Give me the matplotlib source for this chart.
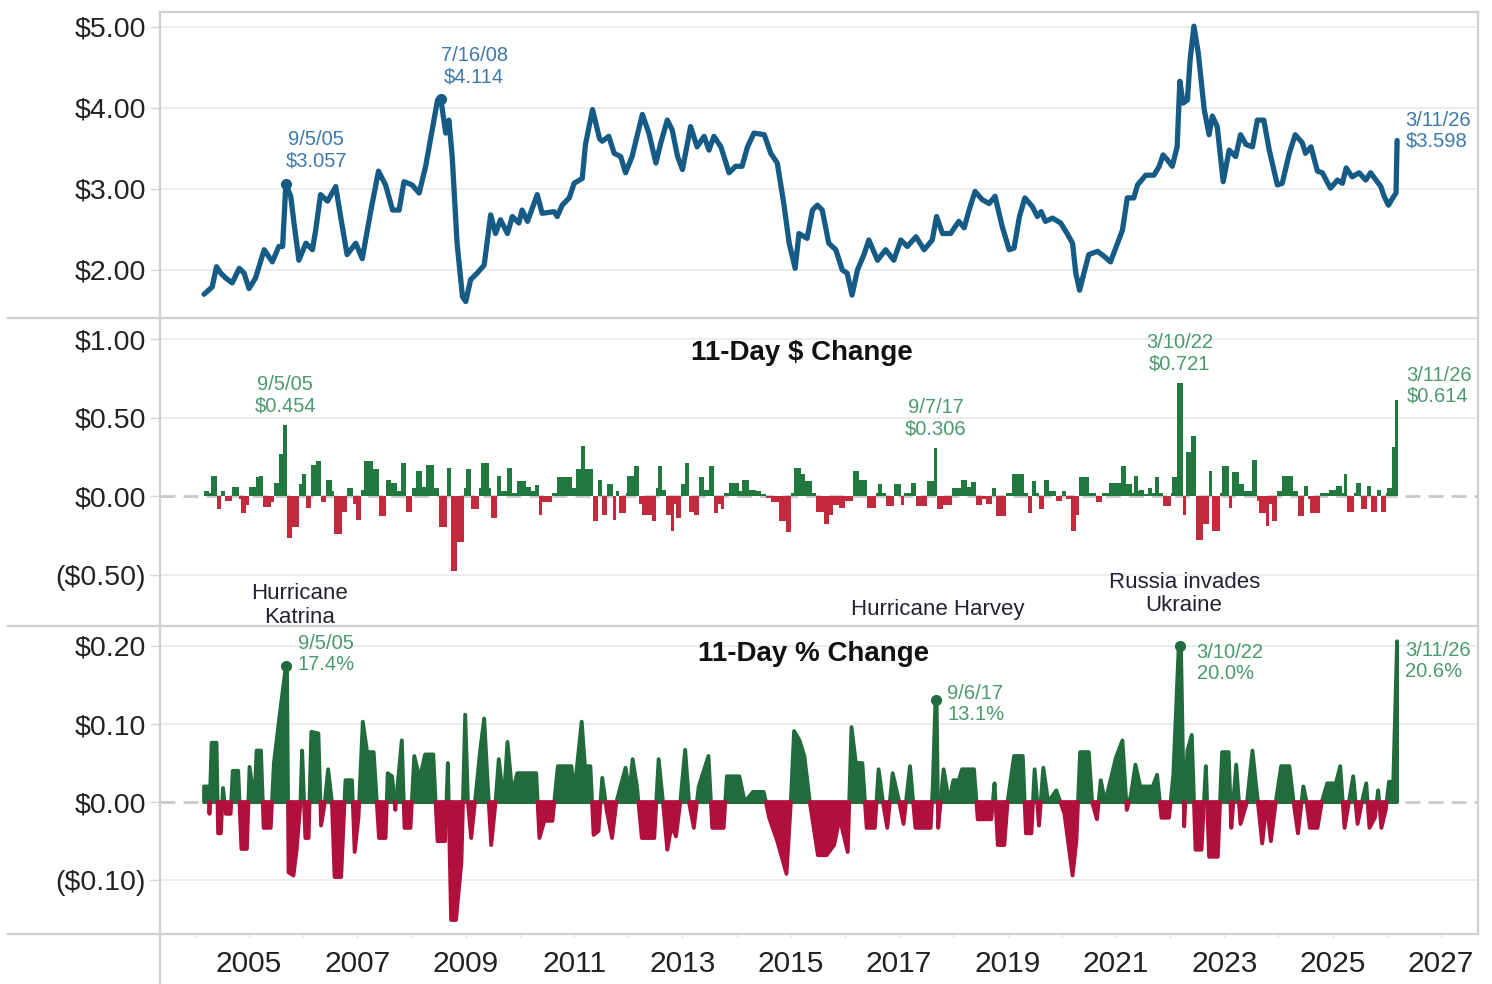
import matplotlib
matplotlib.use("Agg")
import matplotlib.pyplot as plt
from matplotlib.lines import Line2D
from matplotlib.ticker import FuncFormatter
import numpy as np

plt.rcParams['font.family'] = ['Liberation Sans', 'DejaVu Sans']

# ---- data (decimal years) ----
# average gas price
price_year = [2004.17, 2004.32, 2004.40, 2004.48, 2004.57, 2004.69, 2004.82, 2004.91, 2005.00, 2005.12,
              2005.28, 2005.43, 2005.55, 2005.62, 2005.68, 2005.77, 2005.83, 2005.92, 2006.05, 2006.17,
              2006.23, 2006.32, 2006.45, 2006.60, 2006.69, 2006.81, 2006.97, 2007.09, 2007.25, 2007.39,
              2007.52, 2007.65, 2007.77, 2007.86, 2008.01, 2008.14, 2008.26, 2008.38, 2008.48, 2008.54,
              2008.63, 2008.69, 2008.75, 2008.84, 2008.94, 2009.00, 2009.09, 2009.21, 2009.34, 2009.46,
              2009.55, 2009.64, 2009.77, 2009.86, 2009.98, 2010.04, 2010.14, 2010.32, 2010.41, 2010.63,
              2010.69, 2010.78, 2010.91, 2011.00, 2011.15, 2011.21, 2011.34, 2011.47, 2011.52, 2011.64,
              2011.74, 2011.86, 2011.95, 2012.07, 2012.26, 2012.38, 2012.51, 2012.60, 2012.72, 2012.81,
              2012.91, 2013.00, 2013.15, 2013.27, 2013.40, 2013.49, 2013.58, 2013.71, 2013.86, 2013.98,
              2014.10, 2014.20, 2014.32, 2014.51, 2014.63, 2014.75, 2014.87, 2014.97, 2015.08, 2015.15,
              2015.30, 2015.40, 2015.49, 2015.58, 2015.70, 2015.83, 2015.95, 2016.04, 2016.13, 2016.23,
              2016.35, 2016.44, 2016.60, 2016.75, 2016.90, 2017.03, 2017.15, 2017.31, 2017.46, 2017.61,
              2017.69, 2017.80, 2017.95, 2018.10, 2018.20, 2018.29, 2018.40, 2018.53, 2018.66, 2018.77,
              2018.90, 2019.03, 2019.12, 2019.22, 2019.32, 2019.46, 2019.55, 2019.62, 2019.70, 2019.83,
              2019.98, 2020.10, 2020.20, 2020.26, 2020.33, 2020.41, 2020.50, 2020.66, 2020.78, 2020.90,
              2021.03, 2021.12, 2021.21, 2021.33, 2021.40, 2021.55, 2021.70, 2021.80, 2021.87, 2021.95,
              2022.04, 2022.13, 2022.18, 2022.24, 2022.32, 2022.37, 2022.44, 2022.52, 2022.63, 2022.72,
              2022.78, 2022.87, 2022.98, 2023.09, 2023.21, 2023.30, 2023.40, 2023.52, 2023.61, 2023.73,
              2023.83, 2023.98, 2024.07, 2024.20, 2024.31, 2024.44, 2024.50, 2024.60, 2024.72, 2024.81,
              2024.96, 2025.09, 2025.18, 2025.25, 2025.36, 2025.49, 2025.61, 2025.70, 2025.80, 2025.89,
              2025.95, 2026.03, 2026.11, 2026.17, 2026.19]
price_val = [1.70, 1.79, 2.04, 1.96, 1.90, 1.84, 2.02, 1.96, 1.77, 1.90,
             2.25, 2.10, 2.29, 2.29, 3.057, 2.91, 2.58, 2.12, 2.33, 2.25,
             2.49, 2.93, 2.85, 3.03, 2.66, 2.19, 2.33, 2.14, 2.74, 3.22,
             3.05, 2.74, 2.74, 3.09, 3.05, 2.95, 3.28, 3.73, 4.10, 4.114,
             3.69, 3.85, 3.40, 2.33, 1.67, 1.61, 1.88, 1.96, 2.06, 2.68,
             2.45, 2.62, 2.45, 2.66, 2.58, 2.74, 2.60, 2.93, 2.70, 2.72,
             2.66, 2.80, 2.89, 3.07, 3.13, 3.55, 3.98, 3.62, 3.59, 3.65,
             3.44, 3.40, 3.20, 3.40, 3.92, 3.69, 3.32, 3.57, 3.85, 3.73,
             3.40, 3.24, 3.77, 3.52, 3.65, 3.48, 3.65, 3.52, 3.20, 3.28,
             3.28, 3.52, 3.69, 3.67, 3.44, 3.32, 2.82, 2.33, 2.02, 2.45,
             2.39, 2.74, 2.80, 2.74, 2.33, 2.25, 2.00, 1.96, 1.69, 2.00,
             2.19, 2.37, 2.12, 2.25, 2.12, 2.37, 2.29, 2.41, 2.25, 2.37,
             2.66, 2.45, 2.45, 2.60, 2.52, 2.74, 2.97, 2.87, 2.82, 2.91,
             2.54, 2.25, 2.27, 2.66, 2.89, 2.78, 2.66, 2.72, 2.60, 2.64,
             2.58, 2.45, 2.33, 1.96, 1.75, 1.96, 2.19, 2.23, 2.17, 2.10,
             2.33, 2.49, 2.89, 2.89, 3.05, 3.17, 3.17, 3.28, 3.42, 3.36,
             3.28, 3.52, 4.33, 4.06, 4.10, 4.60, 5.01, 4.68, 3.98, 3.67,
             3.90, 3.77, 3.09, 3.48, 3.40, 3.67, 3.55, 3.52, 3.85, 3.85,
             3.48, 3.05, 3.07, 3.44, 3.67, 3.57, 3.44, 3.52, 3.22, 3.20,
             3.01, 3.11, 3.07, 3.26, 3.15, 3.20, 3.11, 3.20, 3.11, 3.03,
             2.91, 2.80, 2.89, 2.95, 3.598]

# 11-day $ change: period start and value
dchg_year = [2004.17, 2004.26, 2004.30, 2004.41, 2004.48, 2004.55, 2004.69, 2004.82, 2004.85, 2004.95,
             2005.00, 2005.12, 2005.18, 2005.25, 2005.40, 2005.46, 2005.55, 2005.63, 2005.71, 2005.80,
             2005.92, 2005.98, 2006.05, 2006.14, 2006.23, 2006.32, 2006.42, 2006.54, 2006.57, 2006.72,
             2006.81, 2006.91, 2006.97, 2007.06, 2007.12, 2007.28, 2007.40, 2007.52, 2007.62, 2007.74,
             2007.80, 2007.89, 2008.01, 2008.08, 2008.20, 2008.26, 2008.41, 2008.51, 2008.66, 2008.72,
             2008.84, 2008.97, 2009.00, 2009.09, 2009.25, 2009.28, 2009.43, 2009.46, 2009.58, 2009.65,
             2009.77, 2009.86, 2009.95, 2010.11, 2010.20, 2010.27, 2010.35, 2010.41, 2010.60, 2010.69,
             2010.97, 2011.03, 2011.12, 2011.20, 2011.34, 2011.44, 2011.52, 2011.60, 2011.71, 2011.77,
             2011.83, 2011.95, 2011.98, 2012.11, 2012.20, 2012.26, 2012.44, 2012.51, 2012.54, 2012.63,
             2012.69, 2012.78, 2012.84, 2012.88, 2012.97, 2013.05, 2013.12, 2013.21, 2013.31, 2013.40,
             2013.49, 2013.58, 2013.66, 2013.72, 2013.77, 2013.86, 2014.04, 2014.10, 2014.23, 2014.35,
             2014.45, 2014.54, 2014.63, 2014.78, 2014.91, 2015.00, 2015.06, 2015.18, 2015.27, 2015.40,
             2015.46, 2015.61, 2015.70, 2015.78, 2015.89, 2016.00, 2016.14, 2016.26, 2016.41, 2016.57,
             2016.60, 2016.69, 2016.75, 2016.90, 2017.03, 2017.09, 2017.21, 2017.31, 2017.52, 2017.64,
             2017.70, 2017.80, 2017.98, 2018.14, 2018.25, 2018.33, 2018.41, 2018.52, 2018.60, 2018.72,
             2018.78, 2018.97, 2019.09, 2019.30, 2019.37, 2019.46, 2019.52, 2019.58, 2019.67, 2019.77,
             2019.90, 2020.00, 2020.08, 2020.17, 2020.26, 2020.32, 2020.50, 2020.63, 2020.75, 2020.87,
             2021.09, 2021.18, 2021.30, 2021.33, 2021.40, 2021.43, 2021.52, 2021.60, 2021.67, 2021.73,
             2021.80, 2021.86, 2022.01, 2022.04, 2022.13, 2022.23, 2022.29, 2022.38, 2022.47, 2022.60,
             2022.72, 2022.78, 2022.93, 2022.96, 2023.09, 2023.15, 2023.27, 2023.36, 2023.52, 2023.61,
             2023.64, 2023.77, 2023.83, 2023.89, 2023.98, 2024.07, 2024.26, 2024.36, 2024.48, 2024.55,
             2024.58, 2024.76, 2024.93, 2025.06, 2025.18, 2025.21, 2025.27, 2025.39, 2025.43, 2025.52,
             2025.64, 2025.70, 2025.82, 2025.89, 2025.98, 2026.01, 2026.10, 2026.15]
dchg_val = [0.03, 0.02, 0.13, -0.085, 0.03, -0.03, 0.06, -0.02, -0.11, -0.06,
            0.06, 0.12, 0.13, -0.07, -0.04, 0.085, 0.27, 0.454, -0.27, -0.20,
            0.075, 0.14, -0.075, 0.20, 0.22, -0.04, 0.10, 0.03, -0.245, -0.10,
            0.05, -0.05, -0.15, 0.04, 0.22, 0.17, -0.13, 0.10, 0.08, 0.03,
            0.21, -0.10, 0.05, 0.16, 0.06, 0.20, 0.05, -0.20, 0.18, -0.48,
            -0.29, 0.05, 0.17, -0.085, 0.05, 0.21, 0.05, -0.14, 0.13, 0.03,
            0.18, 0.02, 0.095, 0.06, 0.03, 0.07, -0.12, -0.04, 0.02, 0.12,
            0.05, 0.17, 0.32, 0.17, -0.16, 0.10, -0.12, 0.075, -0.15, 0.03,
            -0.11, 0.02, 0.13, 0.19, -0.05, -0.12, -0.16, 0.05, 0.19, 0.04,
            -0.12, -0.22, -0.05, -0.14, 0.075, 0.21, -0.10, -0.12, 0.12, 0.04,
            0.19, -0.11, -0.05, -0.08, 0.02, 0.085, 0.03, 0.10, 0.04, 0.03,
            0.01, -0.01, -0.04, -0.16, -0.23, 0.02, 0.18, 0.14, 0.095, 0.02,
            -0.10, -0.18, -0.12, -0.06, -0.075, -0.03, 0.16, 0.10, -0.075, 0.02,
            0.075, 0.02, -0.065, 0.075, -0.06, 0.02, 0.085, -0.065, 0.095, 0.306,
            -0.085, -0.055, 0.05, 0.10, 0.06, 0.09, -0.055, -0.02, -0.05, 0.05,
            -0.13, 0.02, 0.14, 0.02, -0.11, 0.095, 0.02, -0.085, 0.10, 0.03,
            -0.03, 0.03, -0.02, -0.22, -0.12, 0.12, 0.02, -0.04, 0.02, 0.085,
            0.19, 0.075, 0.02, 0.13, 0.03, 0.04, 0.015, 0.05, 0.02, 0.12,
            0.02, -0.065, 0.02, 0.12, 0.721, -0.12, 0.28, 0.38, -0.28, -0.18,
            0.16, -0.22, 0.02, 0.19, -0.075, 0.15, 0.075, 0.03, 0.23, -0.03,
            -0.11, -0.19, -0.05, -0.16, 0.03, 0.13, 0.03, -0.13, 0.065, -0.02,
            -0.11, 0.02, 0.04, 0.065, 0.02, 0.14, -0.10, 0.02, 0.085, -0.085,
            0.065, -0.10, 0.04, -0.10, 0.02, 0.05, 0.31, 0.614]
dchg_end = 2026.20

# 11-day % change
pct_year = [2004.17, 2004.26, 2004.27, 2004.31, 2004.40, 2004.43, 2004.48, 2004.52, 2004.57, 2004.66,
            2004.70, 2004.80, 2004.86, 2004.96, 2005.01, 2005.10, 2005.14, 2005.22, 2005.27, 2005.40,
            2005.46, 2005.57, 2005.68, 2005.70, 2005.73, 2005.82, 2005.88, 2005.95, 2005.98, 2006.04,
            2006.10, 2006.15, 2006.28, 2006.33, 2006.40, 2006.46, 2006.53, 2006.58, 2006.70, 2006.78,
            2006.90, 2006.95, 2007.02, 2007.10, 2007.18, 2007.30, 2007.40, 2007.52, 2007.56, 2007.64,
            2007.70, 2007.82, 2007.87, 2007.98, 2008.05, 2008.15, 2008.25, 2008.40, 2008.48, 2008.62,
            2008.67, 2008.73, 2008.82, 2008.92, 2008.99, 2009.04, 2009.10, 2009.20, 2009.27, 2009.34,
            2009.40, 2009.47, 2009.55, 2009.61, 2009.70, 2009.77, 2009.86, 2009.95, 2010.30, 2010.36,
            2010.45, 2010.60, 2010.70, 2010.95, 2011.00, 2011.14, 2011.20, 2011.30, 2011.36, 2011.45,
            2011.52, 2011.60, 2011.70, 2011.78, 2011.95, 2012.02, 2012.08, 2012.16, 2012.25, 2012.48,
            2012.56, 2012.64, 2012.72, 2012.80, 2012.88, 2012.96, 2013.05, 2013.12, 2013.21, 2013.30,
            2013.48, 2013.55, 2013.76, 2013.82, 2014.05, 2014.15, 2014.30, 2014.50, 2014.60, 2014.75,
            2014.92, 2015.00, 2015.06, 2015.16, 2015.25, 2015.35, 2015.50, 2015.66, 2015.80, 2015.90,
            2016.05, 2016.12, 2016.20, 2016.32, 2016.40, 2016.55, 2016.62, 2016.70, 2016.78, 2016.88,
            2017.00, 2017.08, 2017.20, 2017.30, 2017.58, 2017.62, 2017.67, 2017.69, 2017.72, 2017.82,
            2017.92, 2018.00, 2018.10, 2018.16, 2018.38, 2018.45, 2018.70, 2018.76, 2018.82, 2018.94,
            2019.00, 2019.12, 2019.28, 2019.34, 2019.44, 2019.50, 2019.58, 2019.66, 2019.75, 2019.90,
            2020.05, 2020.20, 2020.27, 2020.34, 2020.50, 2020.56, 2020.65, 2020.72, 2020.80, 2020.90,
            2021.00, 2021.12, 2021.20, 2021.28, 2021.36, 2021.45, 2021.68, 2021.76, 2021.84, 2021.98,
            2022.06, 2022.16, 2022.20, 2022.26, 2022.32, 2022.40, 2022.47, 2022.58, 2022.66, 2022.72,
            2022.88, 2022.96, 2023.08, 2023.13, 2023.22, 2023.30, 2023.42, 2023.52, 2023.62, 2023.70,
            2023.78, 2023.86, 2023.95, 2024.05, 2024.20, 2024.28, 2024.36, 2024.46, 2024.52, 2024.58,
            2024.72, 2024.80, 2024.90, 2025.06, 2025.14, 2025.22, 2025.30, 2025.38, 2025.46, 2025.54,
            2025.62, 2025.68, 2025.78, 2025.84, 2025.90, 2025.98, 2026.04, 2026.12, 2026.19]
pct_val = [0.02, 0.02, -0.015, 0.076, 0.076, -0.04, -0.04, 0.018, -0.015, -0.015,
           0.04, 0.04, -0.06, -0.06, 0.045, 0.0, 0.066, 0.066, -0.033, -0.033,
           0.05, 0.114, 0.174, 0.174, -0.09, -0.094, -0.06, 0.0, 0.066, -0.046,
           -0.046, 0.09, 0.088, -0.03, 0.0, 0.042, 0.0, -0.096, -0.096, 0.028,
           0.028, -0.064, -0.02, 0.103, 0.064, 0.064, -0.046, -0.046, 0.037, 0.033,
           -0.01, 0.079, -0.033, -0.033, 0.059, 0.03, 0.061, 0.061, -0.05, -0.05,
           0.05, -0.151, -0.151, -0.077, 0.112, 0.0, -0.046, 0.02, 0.068, 0.107,
           0.03, -0.055, 0.0, 0.055, 0.0, 0.077, 0.01, 0.037, 0.037, -0.046,
           -0.024, -0.024, 0.046, 0.046, 0.01, 0.103, 0.046, 0.046, -0.042, -0.037,
           0.031, -0.01, -0.046, 0.0, 0.044, 0.01, 0.055, 0.02, -0.046, -0.046,
           0.055, 0.0, -0.061, -0.03, -0.044, 0.0, 0.067, 0.0, -0.033, 0.02,
           0.059, -0.033, -0.033, 0.033, 0.033, 0.0, 0.013, 0.013, -0.02, -0.05,
           -0.092, 0.0, 0.091, 0.079, 0.059, 0.0, -0.068, -0.068, -0.055, -0.02,
           -0.064, 0.096, 0.05, 0.05, -0.033, -0.033, 0.042, 0.0, -0.033, 0.037,
           0.0, -0.028, 0.046, -0.033, -0.033, 0.02, 0.131, 0.131, -0.033, 0.042,
           0.0, 0.028, 0.028, 0.042, 0.042, -0.022, -0.022, 0.024, -0.055, -0.055,
           0.0, 0.059, 0.059, -0.04, -0.04, 0.042, -0.03, 0.044, 0.0, 0.015,
           -0.015, -0.094, -0.05, 0.064, 0.064, 0.0, -0.022, 0.028, 0.0, 0.028,
           0.057, 0.079, -0.01, 0.01, 0.048, 0.02, 0.02, 0.035, -0.02, -0.02,
           0.035, 0.200, 0.200, -0.031, 0.066, 0.086, -0.061, -0.061, 0.046, -0.07,
           -0.07, 0.064, 0.064, -0.033, 0.048, -0.028, 0.0, 0.066, 0.0, -0.053,
           0.0, -0.05, 0.0, 0.046, 0.046, 0.0, -0.04, 0.02, 0.0, -0.033,
           -0.033, 0.0, 0.024, 0.024, 0.046, -0.033, 0.0, 0.033, -0.028, 0.0,
           0.024, -0.033, -0.02, 0.015, -0.033, -0.01, 0.026, 0.026, 0.206]

# labelled points: (date text, year, value)
price_notes = [("9/5/05", 2005.68, 3.057), ("7/16/08", 2008.54, 4.114), ("3/11/26", 2026.19, 3.598)]
dchg_notes = [("9/5/05", 2005.67, 0.454), ("9/7/17", 2017.67, 0.306),
              ("3/10/22", 2022.18, 0.721), ("3/11/26", 2026.18, 0.614)]
pct_notes = [("9/5/05", 2005.69, 0.174), ("9/6/17", 2017.68, 0.131),
             ("3/10/22", 2022.18, 0.200), ("3/11/26", 2026.19, 0.206)]
events = [("Hurricane\nKatrina", 2005.94, 0.066), ("Hurricane Harvey", 2017.72, 0.055),
          ("Russia invades\nUkraine", 2022.26, 0.104)]

# ---- styling ----
BLUE = '#155b86'
BLUE_TXT = '#3d79ab'
GREEN_BAR = '#22793f'
RED_BAR = '#c32a3d'
GREEN_AREA = '#226b3c'
RED_AREA = '#b0103b'
GREEN_TXT = '#4b9a6e'
GRID = '#ebebeb'
SEP = '#d0d0d0'
TICK = '#222222'


def money(v, pos=None):
    if abs(v) < 1e-9:
        return "$0.00"
    return f"${v:.2f}" if v > 0 else f"(${-v:.2f})"


fig = plt.figure(figsize=(14.92, 9.84), dpi=100)
L, W = 160 / 1492, 1318 / 1492
ax1 = fig.add_axes([L, 666 / 984, W, 306 / 984])
ax2 = fig.add_axes([L, 358 / 984, W, 308 / 984])
ax3 = fig.add_axes([L, 50 / 984, W, 308 / 984])

xlim = (2003.357, 2027.683)
panels = [(ax1, (1.407, 5.185), [2, 3, 4, 5]),
          (ax2, (-0.828, 1.134), [-0.5, 0, 0.5, 1.0]),
          (ax3, (-0.169, 0.2256), [-0.1, 0, 0.1, 0.2])]
for ax, ylim, yt in panels:
    ax.set_facecolor('none')
    ax.set_xlim(*xlim)
    ax.set_ylim(*ylim)
    for s in ax.spines.values():
        s.set_visible(False)
    ax.set_yticks(yt)
    ax.yaxis.set_major_formatter(FuncFormatter(money))
    ax.tick_params(axis='y', length=7, width=1, color='#d6d6d6', pad=3,
                   labelsize=20.5, labelcolor=TICK)
    for t in yt:
        if t != 0:
            ax.axhline(t, color=GRID, lw=1.3, zorder=0)

ax1.tick_params(axis='x', bottom=False, labelbottom=False)
ax2.tick_params(axis='x', bottom=False, labelbottom=False)

years = list(range(2004, 2028))
ax3.set_xticks(years)
ax3.set_xticklabels([str(y) if y % 2 == 1 else "" for y in years])
ax3.tick_params(axis='x', length=2.5, width=1, color='#e0e0e0', pad=9,
                labelsize=21.5, labelcolor=TICK)

# ---- top: price line ----
ax1.plot(price_year, price_val, color=BLUE, lw=3.8, solid_joinstyle='round',
         solid_capstyle='round', zorder=3)
for i, (d, x, v) in enumerate(price_notes):
    if i < 2:
        ax1.plot(x, v, 'o', color=BLUE, ms=7, zorder=4)
        off = (22, 10) if i == 0 else (24, 9)
        ax1.annotate(f"{d}\n${v:.3f}", (x, v), xytext=off, textcoords='offset points',
                     ha='center', va='bottom', fontsize=14.5, color=BLUE_TXT, linespacing=1.15)
    else:
        ax1.annotate(f"{d}\n${v:.3f}", (x, v), xytext=(6, 7), textcoords='offset points',
                     ha='left', va='center', fontsize=14.5, color=BLUE_TXT, linespacing=1.15)

# ---- middle: 11-day $ change bars ----
dx = np.array(dchg_year)
dv = np.array(dchg_val)
dw = np.diff(np.append(dx, dchg_end))
ax2.axhline(0, color='#c9c9c9', lw=2, ls=(0, (5.4, 2.9)), zorder=1)
ax2.bar(dx, dv, width=dw, align='edge', linewidth=0,
        color=[GREEN_BAR if v >= 0 else RED_BAR for v in dv], zorder=2)
for i, (d, x, v) in enumerate(dchg_notes):
    if i < 3:
        ax2.annotate(f"{d}\n${v:.3f}", (x, v), xytext=(0, 7), textcoords='offset points',
                     ha='center', va='bottom', fontsize=14.5, color=GREEN_TXT, linespacing=1.15)
    else:
        ax2.annotate(f"{d}\n${v:.3f}", (x, v), xytext=(7, 10), textcoords='offset points',
                     ha='left', va='center', fontsize=14.5, color=GREEN_TXT, linespacing=1.15)
ax2.text(0.487, 0.886, "11-Day $ Change", transform=ax2.transAxes, ha='center', va='center',
         fontsize=20, fontweight='bold', color='#111111')
for label, x, yf in events:
    ax2.text(x, yf, label, transform=ax2.get_xaxis_transform(), ha='center', va='center',
             fontsize=16, color='#222233', linespacing=1.15, clip_on=False, zorder=6)

# ---- bottom: 11-day % change area ----
px = np.array(pct_year)
pv = np.array(pct_val)
ax3.axhline(0, color='#c9c9c9', lw=2, ls=(0, (5.4, 2.9)), zorder=1)
ax3.fill_between(px, 0, pv, where=pv >= 0, interpolate=True, color=GREEN_AREA,
                 lw=2.8, edgecolor=GREEN_AREA, joinstyle='round', zorder=2)
ax3.fill_between(px, 0, pv, where=pv <= 0, interpolate=True, color=RED_AREA,
                 lw=2.8, edgecolor=RED_AREA, joinstyle='round', zorder=2)
for i, (d, x, v) in enumerate(pct_notes):
    if i < 3:
        ax3.plot(x, v, 'o', color=GREEN_AREA, ms=7, zorder=4)
    off = [(8, 9), (8, -3), (12, -12), (6, -14)][i]
    ax3.annotate(f"{d}\n{v * 100:.1f}%", (x, v), xytext=off, textcoords='offset points',
                 ha='left', va='center', fontsize=14.5, color=GREEN_TXT, linespacing=1.15)
ax3.text(0.4955, 0.909, "11-Day % Change", transform=ax3.transAxes, ha='center', va='center',
         fontsize=20, fontweight='bold', color='#111111')


# ---- frame lines (pixel positions of the panel borders) ----
def hline(y, x0, x1):
    fig.add_artist(Line2D([x0 / 1492, x1 / 1492], [1 - y / 984, 1 - y / 984],
                          color=SEP, lw=1.6, transform=fig.transFigure, zorder=10))


def vline(x, y0, y1):
    fig.add_artist(Line2D([x / 1492, x / 1492], [1 - y0 / 984, 1 - y1 / 984],
                          color=SEP, lw=1.6, transform=fig.transFigure, zorder=10))


hline(12, 160, 1478)
for y in (318, 626, 934):
    hline(y, 8, 1478)
vline(160, 12, 984)
vline(1478, 12, 934)

fig.savefig("out.png", dpi=100)
